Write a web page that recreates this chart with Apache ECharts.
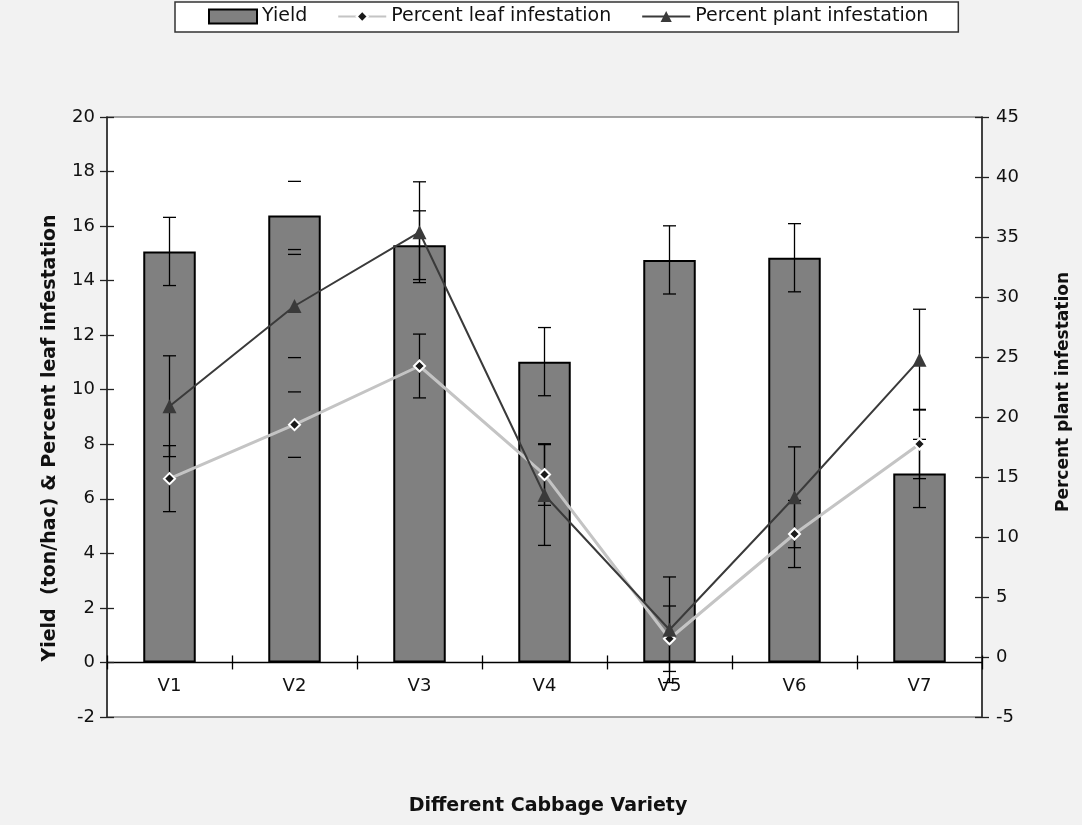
<!DOCTYPE html>
<html>
<head>
<meta charset="utf-8">
<script src="https://cdn.jsdelivr.net/npm/echarts@6/dist/echarts.min.js"></script>
<style>
  html, body { margin: 0; padding: 0; background: #f2f2f2; }
  #chart { width: 1082px; height: 825px; }
</style>
</head>
<body>
<div id="chart"></div>
<script>
// ---- data ----
const categories = ['V1', 'V2', 'V3', 'V4', 'V5', 'V6', 'V7'];
const yieldVals = [15.07, 16.39, 15.3, 11.03, 14.76, 14.84, 6.93];
const yieldErr  = [1.25, 1.25, 1.26, 1.25, 1.25, 1.25, 1.25];
const leafVals  = [6.74, 8.72, 10.87, 6.89, 0.87, 4.71, 8.01];
const leafErr   = [1.21, 1.2, 1.17, 1.13, 1.2, 1.23, 1.27];
const plantVals = [20.9, 29.25, 35.4, 13.5, 2.27, 13.31, 24.78];
const plantErr  = [4.2, 4.3, 4.2, 4.2, 4.4, 4.2, 4.2];
const leftTicks = { min: -2, max: 20, interval: 2 };
const rightTicks = { min: -5, max: 45, interval: 5 };
const capsOnly = ['V2'];   // category whose error bars show caps without stems

const FONT = '"DejaVu Sans", "Liberation Sans", Arial, sans-serif';
const chart = echarts.init(document.getElementById('chart'), null, { renderer: 'canvas' });

function errData(vals, errs) {
  return vals.map((v, i) => [i, v, errs[i]]);
}
function errRender(params, api) {
  const i = api.value(0), v = api.value(1), e = api.value(2);
  const top = api.coord([i, v + e]);
  const bot = api.coord([i, v - e]);
  const half = 6.5;
  const style = { stroke: '#000', lineWidth: 1.3 };
  const children = [
    { type: 'line', shape: { x1: top[0] - half, y1: top[1], x2: top[0] + half, y2: top[1] }, style },
    { type: 'line', shape: { x1: bot[0] - half, y1: bot[1], x2: bot[0] + half, y2: bot[1] }, style }
  ];
  if (capsOnly.indexOf(categories[i]) < 0) {
    children.push({ type: 'line', shape: { x1: top[0], y1: top[1], x2: bot[0], y2: bot[1] }, style });
  }
  return { type: 'group', children };
}

const axisLabelStyle = { color: '#111', fontSize: 18, fontFamily: FONT };

const option = {
  backgroundColor: '#f2f2f2',
  animation: false,
  textStyle: { fontFamily: FONT },
  grid: {
    left: 107, right: 100, top: 117, bottom: 108,
    show: true, backgroundColor: '#ffffff', borderColor: '#888', borderWidth: 1.5
  },
  legend: {
    data: [
      { name: 'Yield', icon: 'rect' },
      { name: 'Percent leaf infestation' },
      { name: 'Percent plant infestation' }
    ],
    left: 175, top: 2,
    padding: [5, 30, 6, 33],
    itemGap: 30,
    itemWidth: 48, itemHeight: 14,
    backgroundColor: '#ffffff', borderColor: '#333', borderWidth: 1.5,
    textStyle: { fontSize: 19, color: '#111', fontFamily: FONT }
  },
  xAxis: [
    {
      type: 'category', data: categories, gridIndex: 0, position: 'bottom',
      axisLine: { onZero: true, lineStyle: { color: '#000', width: 1.3 } },
      axisTick: { show: true, inside: false, length: 7, lineStyle: { color: '#000', width: 1.3 } },
      axisLabel: Object.assign({ margin: -40 }, axisLabelStyle),
      splitLine: { show: false }
    },
    {
      type: 'category', data: categories, gridIndex: 0, position: 'bottom',
      axisLine: { show: false, onZero: true, onZeroAxisIndex: 0 },
      axisTick: { show: true, inside: true, length: 7, lineStyle: { color: '#000', width: 1.3 } },
      axisLabel: { show: false },
      splitLine: { show: false }
    }
  ],
  yAxis: [
    {
      type: 'value', position: 'left', min: leftTicks.min, max: leftTicks.max, interval: leftTicks.interval,
      axisLine: { show: true, onZero: false, lineStyle: { color: '#222', width: 1.5 } },
      axisTick: { show: true, inside: false, length: 7, lineStyle: { color: '#222', width: 1.3 } },
      axisLabel: Object.assign({ margin: 12 }, axisLabelStyle),
      splitLine: { show: false }
    },
    {
      type: 'value', position: 'right', min: rightTicks.min, max: rightTicks.max, interval: rightTicks.interval,
      axisLine: { show: true, onZero: false, lineStyle: { color: '#222', width: 1.5 } },
      axisTick: { show: true, inside: false, length: 7, lineStyle: { color: '#222', width: 1.3 } },
      axisLabel: Object.assign({ margin: 14 }, axisLabelStyle),
      splitLine: { show: false }
    },
    {
      type: 'value', position: 'left', min: leftTicks.min, max: leftTicks.max, interval: leftTicks.interval,
      axisLine: { show: false, onZero: false },
      axisTick: { show: true, inside: true, length: 7, lineStyle: { color: '#222', width: 1.3 } },
      axisLabel: { show: false }, splitLine: { show: false }
    },
    {
      type: 'value', position: 'right', min: rightTicks.min, max: rightTicks.max, interval: rightTicks.interval,
      axisLine: { show: false, onZero: false },
      axisTick: { show: true, inside: true, length: 7, lineStyle: { color: '#222', width: 1.3 } },
      axisLabel: { show: false }, splitLine: { show: false }
    }
  ],
  series: [
    {
      name: 'Yield', type: 'bar', data: yieldVals, xAxisIndex: 0, yAxisIndex: 0,
      barWidth: '42%',
      itemStyle: { color: '#808080', borderColor: '#000', borderWidth: 2 },
      z: 2
    },
    {
      name: 'yieldErr', type: 'custom', data: errData(yieldVals, yieldErr),
      xAxisIndex: 0, yAxisIndex: 0, renderItem: errRender,
      encode: { x: 0, y: 1 }, z: 3, silent: true
    },
    {
      name: 'leafErr', type: 'custom', data: errData(leafVals, leafErr),
      xAxisIndex: 0, yAxisIndex: 0, renderItem: errRender,
      encode: { x: 0, y: 1 }, z: 3, silent: true
    },
    {
      name: 'plantErr', type: 'custom', data: errData(plantVals, plantErr),
      xAxisIndex: 0, yAxisIndex: 1, renderItem: errRender,
      encode: { x: 0, y: 1 }, z: 3, silent: true
    },
    {
      name: 'Percent leaf infestation', type: 'line', data: leafVals, xAxisIndex: 0, yAxisIndex: 0,
      symbol: 'diamond', symbolSize: 11, showAllSymbol: true,
      lineStyle: { color: '#c4c4c4', width: 3 },
      itemStyle: { color: '#1a1a1a', borderColor: '#ffffff', borderWidth: 2 },
      z: 4
    },
    {
      name: 'Percent plant infestation', type: 'line', data: plantVals, xAxisIndex: 0, yAxisIndex: 1,
      symbol: 'triangle', symbolSize: 14, showAllSymbol: true,
      lineStyle: { color: '#3a3a3a', width: 2 },
      itemStyle: { color: '#3a3a3a' },
      z: 5
    }
  ],
  graphic: [
    {
      type: 'text', x: 50, y: 438, rotation: Math.PI / 2,
      style: {
        text: 'Yield  (ton/hac) & Percent leaf infestation',
        fontSize: 19, fontWeight: 'bold', fill: '#111', fontFamily: FONT,
        align: 'center', verticalAlign: 'middle'
      }
    },
    {
      type: 'text', x: 1064, y: 392, rotation: Math.PI / 2,
      style: {
        text: 'Percent plant infestation',
        fontSize: 17, fontWeight: 'bold', fill: '#111', fontFamily: FONT,
        align: 'center', verticalAlign: 'middle'
      }
    },
    {
      type: 'text', x: 548, y: 806,
      style: {
        text: 'Different Cabbage Variety',
        fontSize: 19, fontWeight: 'bold', fill: '#111', fontFamily: FONT,
        align: 'center', verticalAlign: 'middle'
      }
    }
  ]
};
chart.setOption(option);
</script>
</body>
</html>
